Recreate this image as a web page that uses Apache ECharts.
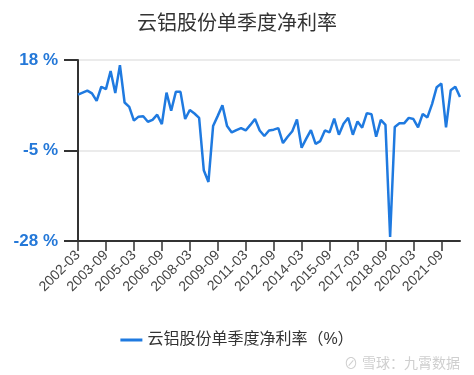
<!DOCTYPE html>
<html>
<head>
<meta charset="utf-8">
<script src="https://cdn.jsdelivr.net/npm/echarts@6/dist/echarts.min.js"></script>
<style>html,body{margin:0;padding:0;background:#fff;}#c{width:474px;height:375px;}</style>
</head>
<body>
<div id="c"></div>
<script>
var titleText = '云铝股份单季度净利率';
var seriesName = '云铝股份单季度净利率（%）';
var categories = [
 '2002-03','2002-06','2002-09','2002-12','2003-03','2003-06','2003-09','2003-12',
 '2004-03','2004-06','2004-09','2004-12','2005-03','2005-06','2005-09','2005-12',
 '2006-03','2006-06','2006-09','2006-12','2007-03','2007-06','2007-09','2007-12',
 '2008-03','2008-06','2008-09','2008-12','2009-03','2009-06','2009-09','2009-12',
 '2010-03','2010-06','2010-09','2010-12','2011-03','2011-06','2011-09','2011-12',
 '2012-03','2012-06','2012-09','2012-12','2013-03','2013-06','2013-09','2013-12',
 '2014-03','2014-06','2014-09','2014-12','2015-03','2015-06','2015-09','2015-12',
 '2016-03','2016-06','2016-09','2016-12','2017-03','2017-06','2017-09','2017-12',
 '2018-03','2018-06','2018-09','2018-12','2019-03','2019-06','2019-09','2019-12',
 '2020-03','2020-06','2020-09','2020-12','2021-03','2021-06','2021-09','2021-12',
 '2022-03','2022-06','2022-09'
];
var netMargin = [
 9.2, 9.7, 10.2, 9.5, 7.6, 11.2, 10.6, 15.2,
 9.6, 16.7, 7.2, 6.1, 2.6, 3.6, 3.7, 2.3,
 2.8, 4.1, 1.7, 9.7, 5.1, 9.9, 9.9, 3.0,
 5.3, 4.4, 3.3, -10.0, -13.0, 1.2, 3.8, 6.5,
 1.2, -0.4, 0.2, 0.7, 0.1, 1.5, 3.0, 0.1,
 -1.3, 0.1, 0.3, 0.7, -3.1, -1.5, -0.1, 2.9,
 -4.3, -2.0, 0.2, -3.3, -2.6, 0.1, -0.4, 3.1,
 -1.0, 1.8, 3.3, -1.0, 2.4, 0.8, 4.5, 4.2,
 -1.5, 2.8, 1.5, -27.0, 1.0, 1.9, 1.9, 3.3,
 3.0, 0.9, 4.3, 3.4, 6.8, 11.1, 12.0, 0.9,
 10.3, 11.2, 8.6
];
var yMin = -28, yMax = 18, yStep = 23;

var font = '"Liberation Sans", Arial, "Noto Sans CJK SC", sans-serif';
var chart = echarts.init(document.getElementById('c'));
chart.setOption({
  animation: false,
  backgroundColor: '#fff',
  title: {
    text: titleText, left: 'center', top: 9,
    textStyle: { fontFamily: font, fontSize: 20, fontWeight: 'normal', color: '#333' }
  },
  legend: {
    bottom: 22, left: 'center',
    itemWidth: 22, itemHeight: 3, itemGap: 10,
    icon: 'rect',
    textStyle: { fontFamily: font, fontSize: 16, color: '#333' },
    data: [seriesName]
  },
  graphic: [{
    type: 'text', right: 14, bottom: 4,
    style: { text: '⊘ 雪球：九霄数据', fill: '#cfcfcf', font: '14px ' + font }
  }],
  grid: { left: 78, right: 14, top: 60, bottom: 134 },
  xAxis: {
    type: 'category', data: categories, boundaryGap: false,
    axisLine: { onZero: false, lineStyle: { color: '#333', width: 2 } },
    axisTick: { interval: 5, length: 10, lineStyle: { color: '#333', width: 1.5 } },
    axisLabel: { interval: 5, rotate: 45, fontSize: 14, color: '#444', margin: 12, fontFamily: font },
    splitLine: { show: false }
  },
  yAxis: {
    type: 'value', min: yMin, max: yMax, interval: yStep,
    axisLine: { show: true, lineStyle: { color: '#333', width: 2 } },
    axisTick: { show: true, length: 14, lineStyle: { color: '#333', width: 2 } },
    axisLabel: { formatter: '{value} %', fontSize: 17, fontWeight: 'bold', color: '#2478d8', margin: 20, fontFamily: font },
    splitLine: { show: true, lineStyle: { color: '#e4e4e4', width: 1.5 } }
  },
  series: [{
    name: seriesName, type: 'line', data: netMargin,
    showSymbol: false, symbol: 'none',
    lineStyle: { color: '#1f7ae0', width: 2.5 },
    itemStyle: { color: '#1f7ae0' }
  }]
});
</script>
</body>
</html>
